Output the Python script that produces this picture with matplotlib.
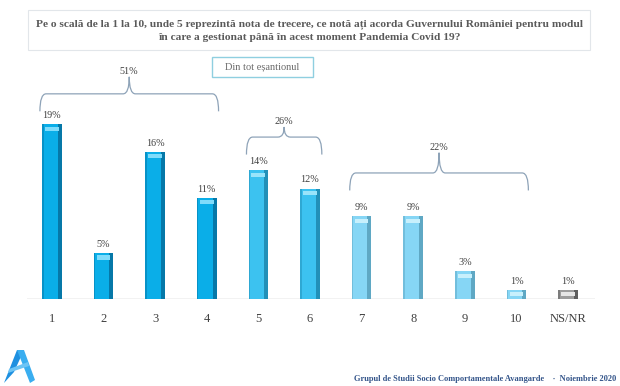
import matplotlib
matplotlib.use("Agg")
import matplotlib.pyplot as plt
from matplotlib.path import Path
from matplotlib.patches import PathPatch, Rectangle, Polygon
import numpy as np

# %% data
categories = ["1", "2", "3", "4", "5", "6", "7", "8", "9", "10", "NS/NR"]
values = [19, 5, 16, 11, 14, 12, 9, 9, 3, 1, 1]
colors = ["#0aaee8"] * 4 + ["#3cc2f0"] * 2 + ["#86d6f5"] * 4 + ["#9c9c9c"]
dark = ["#0678a8"] * 4 + ["#2290b8"] * 2 + ["#5fa8c4"] * 4 + ["#5e5e5e"]
light = ["#7fdcfb"] * 4 + ["#9ae4fa"] * 2 + ["#c8f0fc"] * 4 + ["#e6e6e6"]
groups = [(0, 3), (4, 5), (6, 9)]
group_brace_y = [22.3, 17.6, 13.7]
group_tip = [1.85, 1.1, 2.2]

title_l1 = "Pe o scală de la 1 la 10, unde 5 reprezintă nota de trecere, ce notă ați acorda Guvernului României pentru modul"
title_l2 = "în care a gestionat până în acest moment Pandemia Covid 19?"
subtitle = "Din tot eșantionul"
footer = "Grupul de Studii Socio Comportamentale Avangarde    ·  Noiembrie 2020"

serif = ["Liberation Serif", "DejaVu Serif"]
txt = "#404040"

# %% figure
W, H = 620, 386
fig = plt.figure(figsize=(W / 100, H / 100), dpi=100)
fig.patch.set_facecolor("white")

ax_left, ax_right = 27, 595
base_px, top_px = 299, 60
ax = fig.add_axes([ax_left / W, (H - base_px) / H, (ax_right - ax_left) / W, (base_px - top_px) / H])
ppu = 9.2  # pixels per percent
ax.set_ylim(0, (base_px - top_px) / ppu)
ax.set_xlim(-0.48, 10.52)
ax.axis("off")
ax.axhline(0, color="#bfbfbf", lw=1.0, zorder=1)

x = np.arange(len(values))
bw = 0.38
ax.bar(x, values, width=bw, color=colors, zorder=2)
# darker right edge, light top cap -> 3d look
ax.bar(x + bw * 0.4, values, width=bw * 0.2, color=dark, zorder=3)
ax.bar(x - bw * 0.5, values, width=bw * 0.08, color=dark, alpha=0.5, align="edge", zorder=3)
cap = 0.45
ax.bar(x, [cap] * len(values), bottom=np.array(values) - cap * 1.6, width=bw * 0.7,
       color=light, zorder=4)

for xi, v in zip(x, values):
    ax.text(xi, v + 0.45, f"{v}%", ha="center", va="bottom", fontsize=7.3,
            family=serif, color=txt, zorder=5)

for xi, c in zip(x, categories):
    ax.text(xi, -1.5, c, ha="center", va="top", fontsize=9, family=serif, color=txt)


def brace(ax, x0, x1, y, down=1.9, up=1.2):
    xm = (x0 + x1) / 2
    k = 0.12
    verts = [(x0, y - down), (x0, y), (x0 + k, y),
             (xm - k, y), (xm, y), (xm, y + up),
             (xm, y + up), (xm, y), (xm + k, y),
             (x1 - k, y), (x1, y), (x1, y - down)]
    codes = [Path.MOVETO, Path.CURVE3, Path.CURVE3,
             Path.LINETO, Path.CURVE3, Path.CURVE3,
             Path.MOVETO, Path.CURVE3, Path.CURVE3,
             Path.LINETO, Path.CURVE3, Path.CURVE3]
    ax.add_patch(PathPatch(Path(verts, codes), fill=False, edgecolor="#8ea3b8",
                           lw=0.9, zorder=3, clip_on=False))
    return xm, y + up


for (g0, g1), by, up in zip(groups, group_brace_y, group_tip):
    xm, ty = brace(ax, g0 - 0.23, g1 + 0.23, by, up=up)
    total = sum(values[g0:g1 + 1])
    ax.text(xm, ty + 0.1, f"{total}%", ha="center", va="bottom", fontsize=7.3,
            family=serif, color=txt, clip_on=False)

# %% title box
fig.patches.append(Rectangle((28 / W, 1 - 50 / H), 562 / W, 40 / H, transform=fig.transFigure,
                             facecolor="white", edgecolor="#e2e6ea", lw=0.8))
fig.text(309 / W, 1 - 24 / H, title_l1, ha="center", va="center", fontsize=8.2,
         family=serif, weight="bold", color="#5a5a5a")
fig.text(309 / W, 1 - 37 / H, title_l2, ha="center", va="center", fontsize=8.2,
         family=serif, weight="bold", color="#5a5a5a")

fig.patches.append(Rectangle((212 / W, 1 - 77 / H), 101 / W, 20 / H, transform=fig.transFigure,
                             facecolor="white", edgecolor="#8fcfe0", lw=1.0))
fig.text(262.5 / W, 1 - 67 / H, subtitle, ha="center", va="center", fontsize=7.5,
         family=serif, color="#6a6a6a")

# %% footer + logo
fig.text(616 / W, 1 - 379 / H, footer, ha="right", va="center", fontsize=6.0,
         family=serif, weight="bold", color="#34558a")

logo_l = [(4, 383), (17, 350), (24, 350), (14, 372)]
logo_r = [(17, 350), (24, 350), (35, 380), (30, 383)]
logo_bar = [(9, 369), (28, 362), (29, 366), (8, 373)]
for poly, col in [(logo_l, "#1e90e0"), (logo_r, "#3aaef0"), (logo_bar, "#6cc4f5")]:
    pts = [(px / W, 1 - py / H) for px, py in poly]
    fig.patches.append(Polygon(pts, closed=True, transform=fig.transFigure,
                               facecolor=col, edgecolor="none"))

fig.savefig("out.png", dpi=100)
